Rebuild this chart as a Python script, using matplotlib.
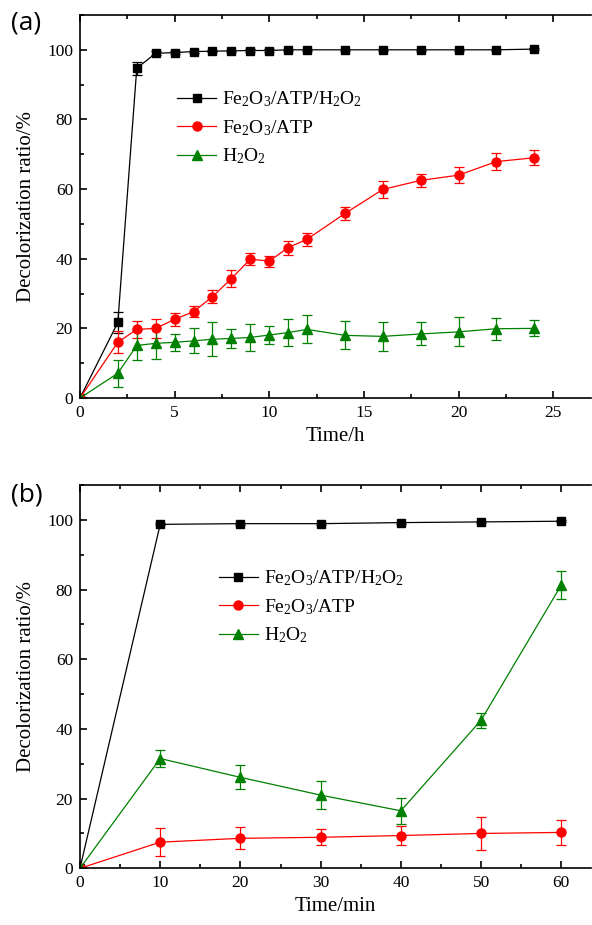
import matplotlib.pyplot as plt
from matplotlib.ticker import MultipleLocator

plt.rcParams['font.family'] = ['Liberation Serif', 'DejaVu Serif']
plt.rcParams['mathtext.fontset'] = 'custom'
plt.rcParams['mathtext.rm'] = 'Liberation Serif'
plt.rcParams['mathtext.it'] = 'Liberation Serif:italic'

# panel (a): time in hours
t_a = [0, 2, 3, 4, 5, 6, 7, 8, 9, 10, 11, 12, 14, 16, 18, 20, 22, 24]
fe_atp_h2o2_a = [0, 21.7, 94.7, 99.0, 99.2, 99.5, 99.6, 99.7, 99.8, 99.8, 100, 100, 100, 100, 100, 100, 100, 100.2]
fe_atp_h2o2_a_err = [0, 3.0, 1.8, 0.6, 0.4, 0.3, 0.3, 0.3, 0.3, 0.3, 0.3, 0.3, 0.3, 0.3, 0.3, 0.3, 0.3, 0.3]
fe_atp_a = [0, 16.0, 19.7, 20.0, 22.6, 24.8, 29.1, 34.3, 39.9, 39.3, 43.2, 45.6, 53.0, 59.9, 62.5, 64.0, 67.9, 69.0]
fe_atp_a_err = [0, 3.2, 2.5, 2.7, 1.8, 1.6, 1.8, 2.4, 1.7, 1.6, 2.0, 1.8, 1.8, 2.4, 1.9, 2.3, 2.5, 2.1]
h2o2_a = [0, 7.1, 15.1, 15.7, 16.0, 16.4, 16.9, 17.1, 17.4, 18.1, 18.8, 19.7, 18.0, 17.7, 18.4, 19.0, 19.9, 20.0]
h2o2_a_err = [0, 3.9, 4.3, 4.4, 2.5, 3.6, 4.8, 2.7, 3.8, 2.7, 3.8, 4.0, 4.0, 4.1, 3.3, 4.2, 3.2, 2.3]

# panel (b): time in minutes
t_b = [0, 10, 20, 30, 40, 50, 60]
fe_atp_h2o2_b = [0, 98.7, 98.9, 98.9, 99.2, 99.4, 99.6]
fe_atp_h2o2_b_err = [0, 0.3, 0.3, 0.3, 0.3, 0.3, 0.3]
fe_atp_b = [0, 7.5, 8.6, 8.9, 9.4, 10.0, 10.3]
fe_atp_b_err = [0, 4.1, 3.2, 2.3, 2.6, 4.7, 3.7]
h2o2_b = [0, 31.5, 26.1, 21.0, 16.5, 42.5, 81.3]
h2o2_b_err = [0, 2.5, 3.4, 4.1, 3.8, 2.2, 4.0]

labels = [r'Fe$_2$O$_3$/ATP/H$_2$O$_2$', r'Fe$_2$O$_3$/ATP', r'H$_2$O$_2$']
colors = ['black', 'red', 'green']
markers = ['s', 'o', '^']
msizes = [5.5, 6.5, 7]

fig = plt.figure(figsize=(5.92, 9.25), dpi=100)
ax_a = fig.add_axes([0.1351, 0.5697, 0.8632, 0.4141])
ax_b = fig.add_axes([0.1351, 0.0613, 0.8632, 0.4144])


def draw(ax, t, series, errs, xlim, xmajor, xminor, xlabel, leg_xy):
  handles = []
  for y, e, lab, c, m, ms in zip(series, errs, labels, colors, markers, msizes):
    cont = ax.errorbar(t, y, yerr=e, color=c, marker=m, markersize=ms, linewidth=0.9,
                       elinewidth=0.9, capsize=3.5, capthick=0.9, label=lab, ecolor=c)
    handles.append(cont[0])  # legend shows line + marker only
  ax.set_xlim(*xlim)
  ax.set_ylim(0, 110)
  ax.xaxis.set_major_locator(MultipleLocator(xmajor))
  ax.xaxis.set_minor_locator(MultipleLocator(xminor))
  ax.yaxis.set_minor_locator(MultipleLocator(10))
  ax.set_yticks([0, 20, 40, 60, 80, 100])
  ax.tick_params(which='both', direction='in', top=True, right=False, labelsize=12.5, width=1.2)
  ax.tick_params(which='major', length=5, pad=5)
  ax.tick_params(which='minor', length=3)
  ax.spines['right'].set_visible(False)
  for s in ['left', 'top', 'bottom']:
    ax.spines[s].set_linewidth(1.2)
  ax.set_xlabel(xlabel, fontsize=15, labelpad=4)
  ax.set_ylabel('Decolorization ratio/%', fontsize=15, labelpad=8)
  ax.legend(handles, labels, loc='upper left', bbox_to_anchor=leg_xy, frameon=False,
            fontsize=14, borderpad=0, borderaxespad=0, handlelength=2.0,
            handletextpad=0.3, labelspacing=0.45)


draw(ax_a, t_a, [fe_atp_h2o2_a, fe_atp_a, h2o2_a], [fe_atp_h2o2_a_err, fe_atp_a_err, h2o2_a_err],
     (0, 27), 5, 2.5, 'Time/h', (0.19, 0.805))
draw(ax_b, t_b, [fe_atp_h2o2_b, fe_atp_b, h2o2_b], [fe_atp_h2o2_b_err, fe_atp_b_err, h2o2_b_err],
     (0, 63.7), 10, 5, 'Time/min', (0.272, 0.782))

fig.text(0.018, 0.975, '(a)', fontsize=19, family='Open Sans', va='center')
fig.text(0.018, 0.465, '(b)', fontsize=19, family='Open Sans', va='center')

fig.savefig('out.png', dpi=100)
